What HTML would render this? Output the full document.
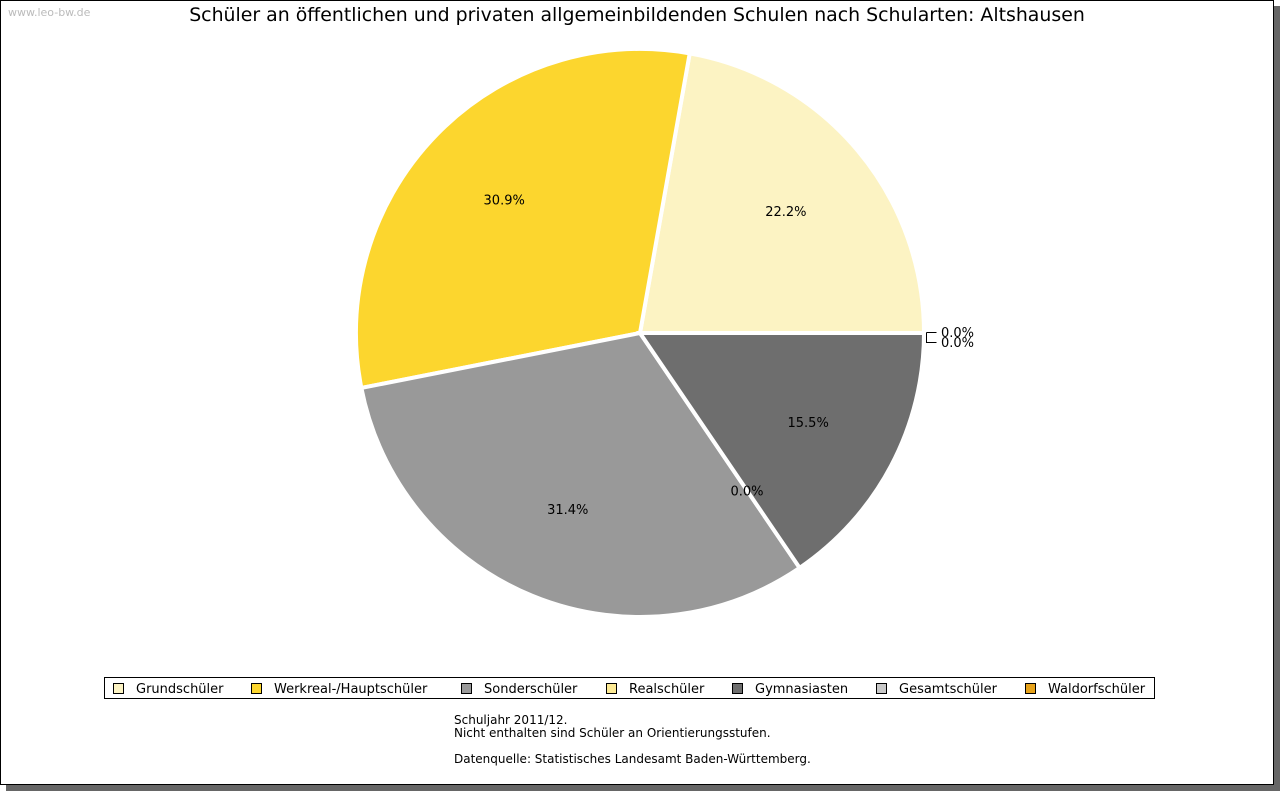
<!DOCTYPE html>
<html><head><meta charset="utf-8"><style>
body{margin:0;width:1280px;height:791px;background:#fff;overflow:hidden;font-family:"DejaVu Sans","Liberation Sans",sans-serif;}
#shadow{position:absolute;left:6px;top:6px;width:1274px;height:785px;background:#666;}
#frame{position:absolute;left:0;top:0;width:1272px;height:783px;background:#fff;border:1px solid #000;}
svg{position:absolute;left:0;top:0;}
</style></head><body>
<div id="shadow"></div>
<div id="frame"></div>
<svg id="chart" width="1280" height="791" font-family="DejaVu Sans, Liberation Sans, sans-serif">
<text x="8" y="16" font-size="11" fill="#bbb">www.leo-bw.de</text>
<text x="637" y="21" font-size="18.9" text-anchor="middle" fill="#000">Schüler an öffentlichen und privaten allgemeinbildenden Schulen nach Schularten: Altshausen</text>
<g id="slices"></g>
<g id="labels"></g>
<rect x="104.5" y="677.5" width="1050" height="21" fill="#fff" stroke="#000"/>
<g id="legend"></g>
<text x="454" y="724" font-size="12">Schuljahr 2011/12.</text>
<text x="454" y="737" font-size="12">Nicht enthalten sind Schüler an Orientierungsstufen.</text>
<text x="454" y="763" font-size="12">Datenquelle: Statistisches Landesamt Baden-Württemberg.</text>
</svg>
<script>
const categories=["Grundschüler","Werkreal-/Hauptschüler","Sonderschüler","Realschüler","Gymnasiasten","Gesamtschüler","Waldorfschüler"];
const values=[22.2,30.9,31.4,0.0,15.5,0.0,0.0];
const colors=["#fcf3c3","#fcd62e","#999999","#fdea94","#6e6e6e","#c8c8c8","#e6a21a"];
const legendX=[113,251,461,606,732,876,1025];
const NS="http://www.w3.org/2000/svg";
const cx=640,cy=333,r=284;
const total=values.reduce((a,b)=>a+b,0);
const sl=document.getElementById('slices'),lb=document.getElementById('labels'),lg=document.getElementById('legend');
function pt(a,rad){return [cx+rad*Math.cos(a),cy-rad*Math.sin(a)];}
let ang=0;let outside=0;
values.forEach((v,i)=>{
  const sweep=v/total*2*Math.PI;const a0=ang,a1=ang+sweep;ang=a1;
  if(v>0){
    const p0=pt(a0,r),p1=pt(a1,r);const large=sweep>Math.PI?1:0;
    const p=document.createElementNS(NS,'path');
    p.setAttribute('d',`M${cx},${cy}L${p0[0]},${p0[1]}A${r},${r} 0 ${large} 0 ${p1[0]},${p1[1]}Z`);
    p.setAttribute('fill',colors[i]);p.setAttribute('stroke','#fff');p.setAttribute('stroke-width','4');
    
    
    sl.appendChild(p);
  }
  const mid=(a0+a1)/2;
  const t=document.createElementNS(NS,'text');t.setAttribute('font-size','13');
  t.textContent=v.toFixed(1)+'%';
  if(v===0&&i>=5){
    const y=cy+(outside?10:0);
    const l=document.createElementNS(NS,'polyline');
    const bx=cx+r+2.5;
    l.setAttribute('points',`${bx},${cy-0.5} ${bx},${y-0.5} ${bx+10},${y-0.5}`);
    l.setAttribute('fill','none');l.setAttribute('stroke','#000');
    
    
    lb.appendChild(l);
    t.setAttribute('x',cx+r+17);t.setAttribute('y',y+4);outside++;
  } else {
    const q=pt(mid,r*0.67);t.setAttribute('x',q[0]);t.setAttribute('y',q[1]+5);t.setAttribute('text-anchor','middle');
  }
  
  
  lb.appendChild(t);
});
categories.forEach((c,i)=>{
  const s=document.createElementNS(NS,'rect');
  s.setAttribute('x',legendX[i]+0.5);s.setAttribute('y',683.5);s.setAttribute('width',10);s.setAttribute('height',10);
  s.setAttribute('fill',colors[i]);s.setAttribute('stroke','#000');
  
  
  lg.appendChild(s);
  const t=document.createElementNS(NS,'text');
  t.setAttribute('x',legendX[i]+23);t.setAttribute('y',693);t.setAttribute('font-size','13');t.textContent=c;
  
  
  lg.appendChild(t);
});
</script>
</body></html>
